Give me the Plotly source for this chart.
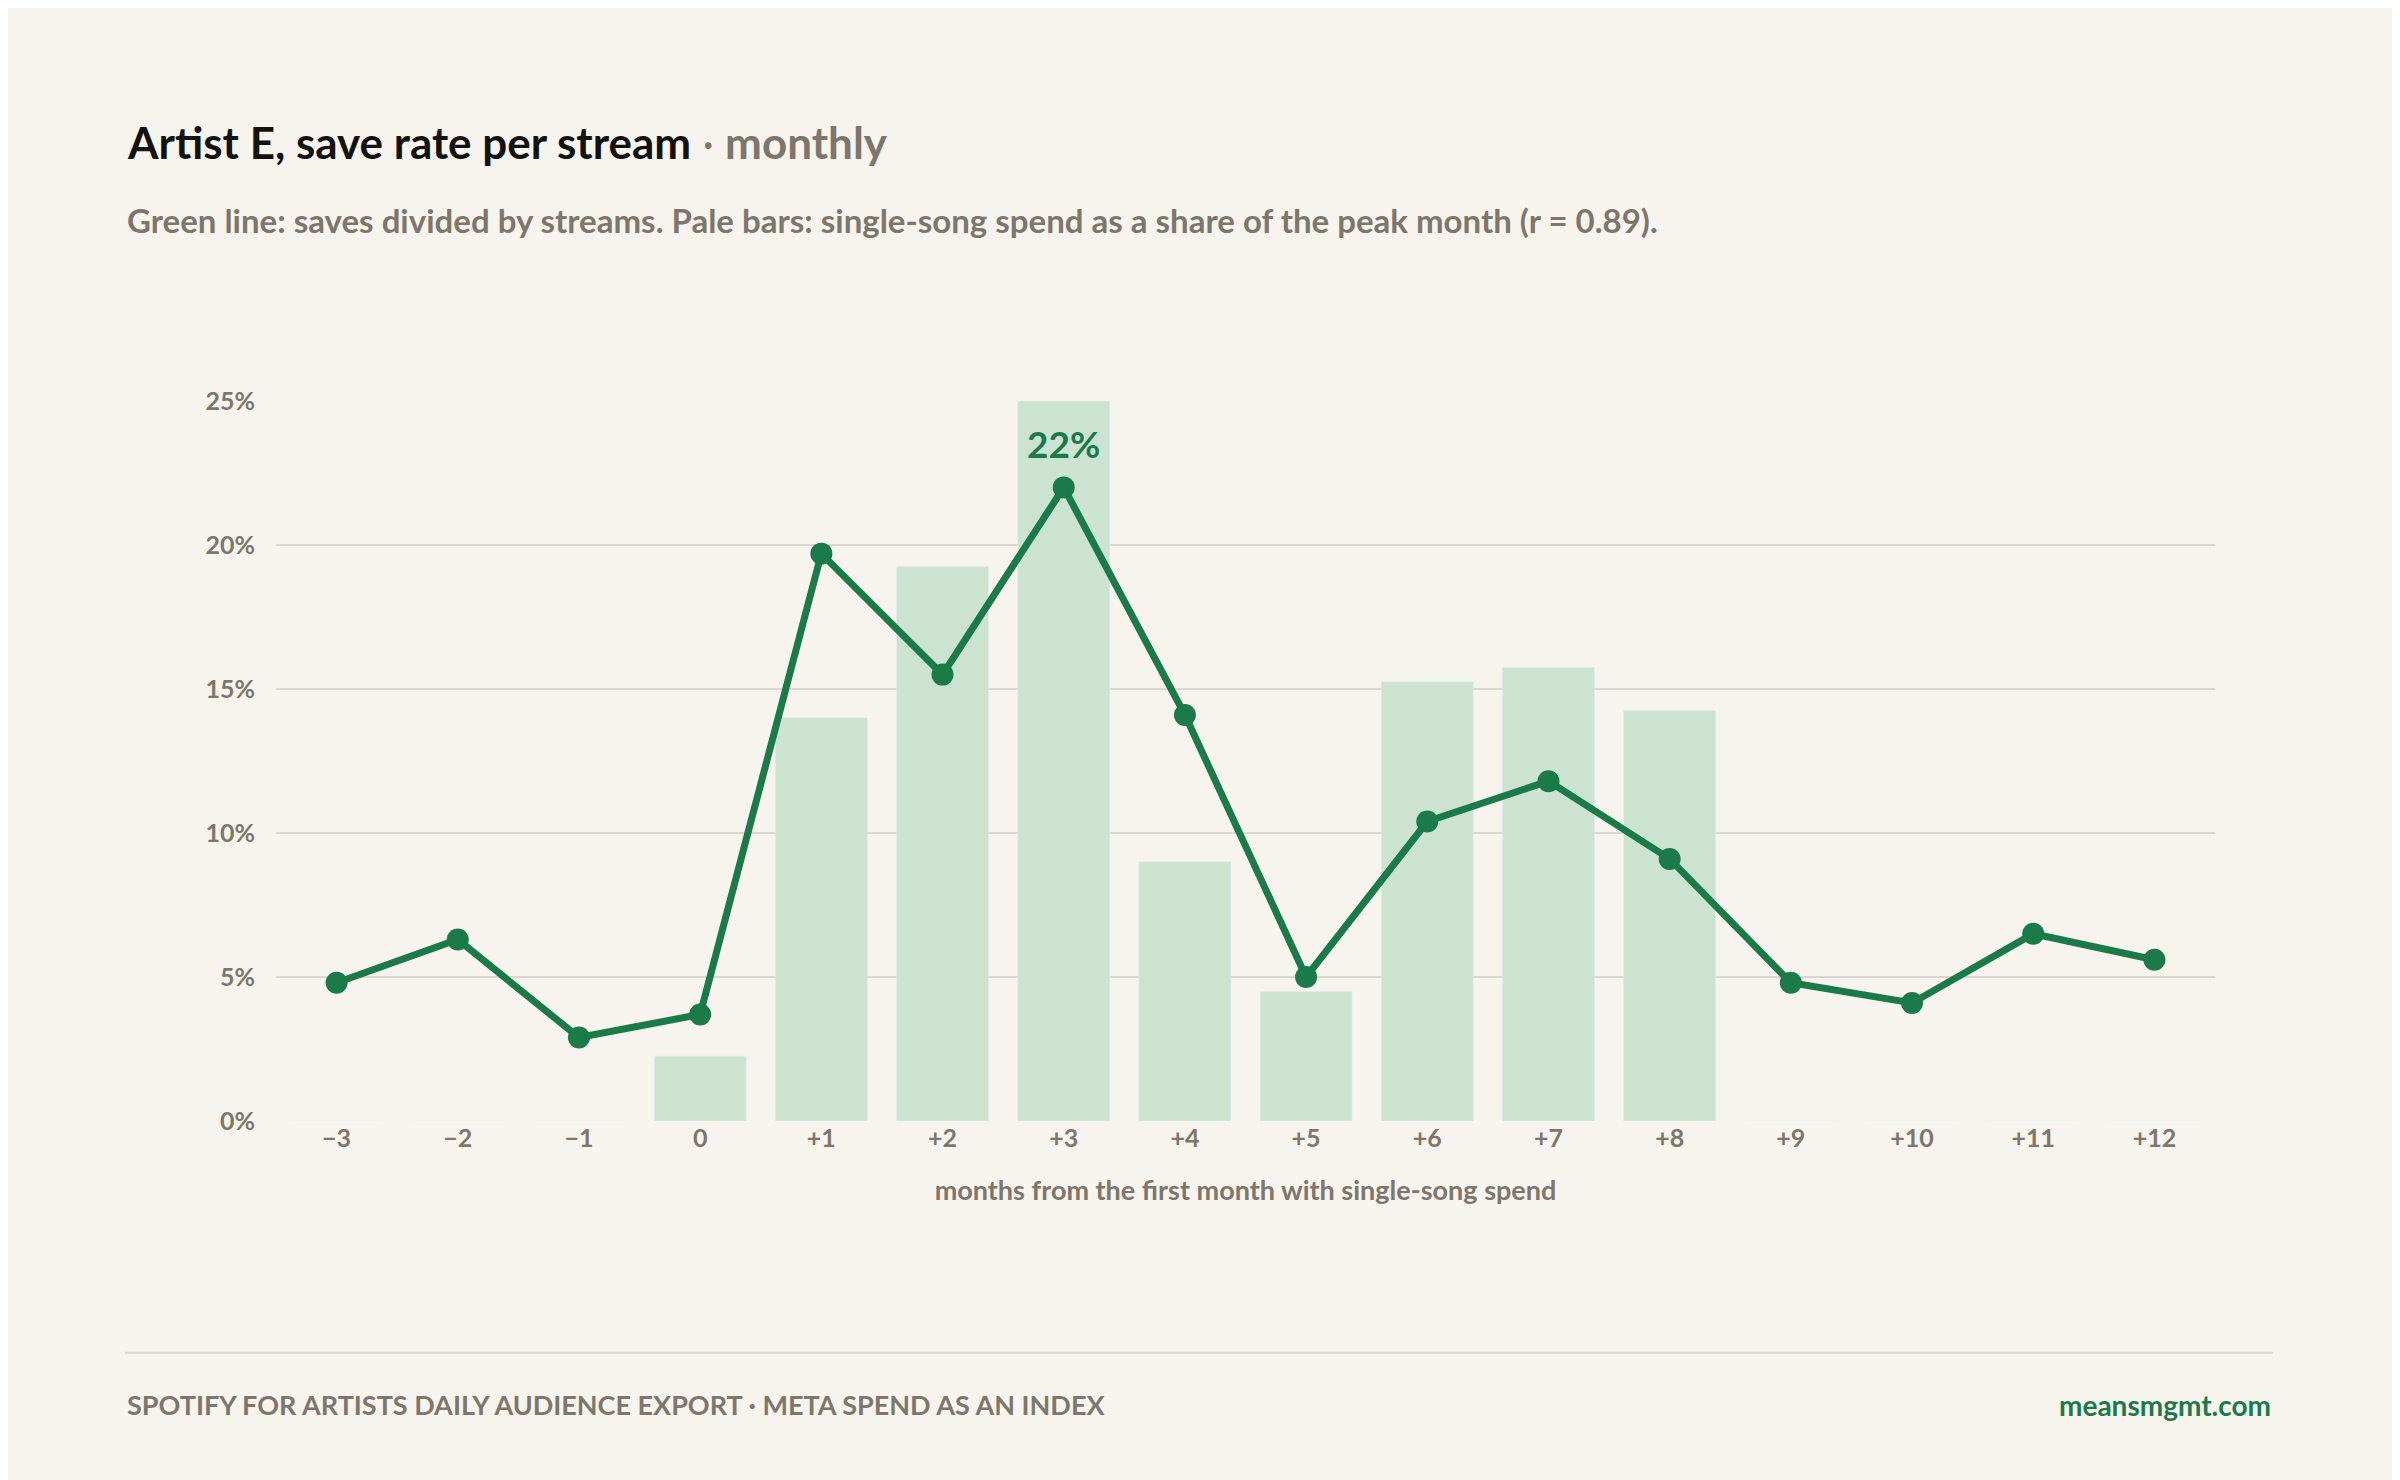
import plotly.graph_objects as go

# months relative to the first month with single-song spend
months = ["−3", "−2", "−1", "0", "+1", "+2", "+3", "+4", "+5", "+6", "+7", "+8", "+9", "+10", "+11", "+12"]
save_rate = [4.8, 6.3, 2.9, 3.7, 19.7, 15.5, 22.0, 14.1, 5.0, 10.4, 11.8, 9.1, 4.8, 4.1, 6.5, 5.6]
# spend as a share of the peak month (peak = 100)
spend_index = [0, 0, 0, 9, 56, 77, 100, 36, 18, 61, 63, 57, 0, 0, 0, 0]
y_ticks = [0, 5, 10, 15, 20, 25]

BG = "#f7f4ee"
GREEN = "#1b7a4a"
PALE = "#cce3d2"
GREY = "#7d766c"
FONT = "Lato"

bar_y = [v * 0.25 for v in spend_index]  # 100% of peak drawn at the 25% line
xs = list(range(len(months)))

fig = go.Figure()
fig.add_trace(go.Bar(x=xs, y=bar_y, marker_color=PALE, width=0.76, hoverinfo="skip"))
fig.add_trace(go.Scatter(
    x=xs, y=save_rate, mode="lines+markers",
    line=dict(color=GREEN, width=7), marker=dict(color=GREEN, size=22),
))
peak = save_rate.index(max(save_rate))
fig.add_annotation(x=peak, y=save_rate[peak], text="<b>%d%%</b>" % round(save_rate[peak]),
                   showarrow=False, yshift=44, font=dict(family=FONT, size=37, color=GREEN))

fig.update_layout(
    width=2400, height=1480, paper_bgcolor=BG, plot_bgcolor=BG,
    margin=dict(l=268, r=193, t=393, b=367), showlegend=False,
    font=dict(family=FONT, color=GREY, size=25),
    xaxis=dict(showgrid=False, zeroline=False, ticks="", range=[-0.5, len(months) - 0.5],
               tickvals=xs, ticktext=["<b>%s</b>" % m for m in months],
               tickfont=dict(size=25, color=GREY),
               title=dict(text="<b>months from the first month with single-song spend</b>",
                          font=dict(size=27, color=GREY), standoff=30)),
    yaxis=dict(range=[0, 25], tickvals=y_ticks, ticktext=["<b>%d%%</b>" % v for v in y_ticks],
               gridcolor="#dbd7cf", gridwidth=2, zeroline=False, ticks="", ticklabelstandoff=20,
               tickfont=dict(size=25, color=GREY)),
)

fig.add_annotation(xref="paper", yref="paper", x=-0.078, y=1.36, xanchor="left", yanchor="middle",
                   showarrow=False, align="left",
                   text="<b><span style='color:#141210'>Artist E, save rate per stream</span></b>"
                        "<span style='color:#7d766c'> · <b>monthly</b></span>",
                   font=dict(family=FONT, size=44))
fig.add_annotation(xref="paper", yref="paper", x=-0.078, y=1.252, xanchor="left", yanchor="middle",
                   showarrow=False,
                   text="<b>Green line: saves divided by streams. Pale bars: single-song spend as a share of the peak month (r = 0.89).</b>",
                   font=dict(family=FONT, size=33, color=GREY))
fig.add_shape(type="line", xref="paper", yref="paper", x0=-0.078, x1=1.03, y0=-0.322, y1=-0.322,
              line=dict(color="#dbd7cf", width=2))
fig.add_annotation(xref="paper", yref="paper", x=-0.078, y=-0.394, xanchor="left", yanchor="middle",
                   showarrow=False, text="<b>SPOTIFY FOR ARTISTS DAILY AUDIENCE EXPORT · META SPEND AS AN INDEX</b>",
                   font=dict(family=FONT, size=27, color=GREY))
fig.add_annotation(xref="paper", yref="paper", x=1.03, y=-0.394, xanchor="right", yanchor="middle",
                   showarrow=False, text="<b>meansmgmt.com</b>",
                   font=dict(family=FONT, size=28, color=GREEN))

fig.write_html("out.html")
